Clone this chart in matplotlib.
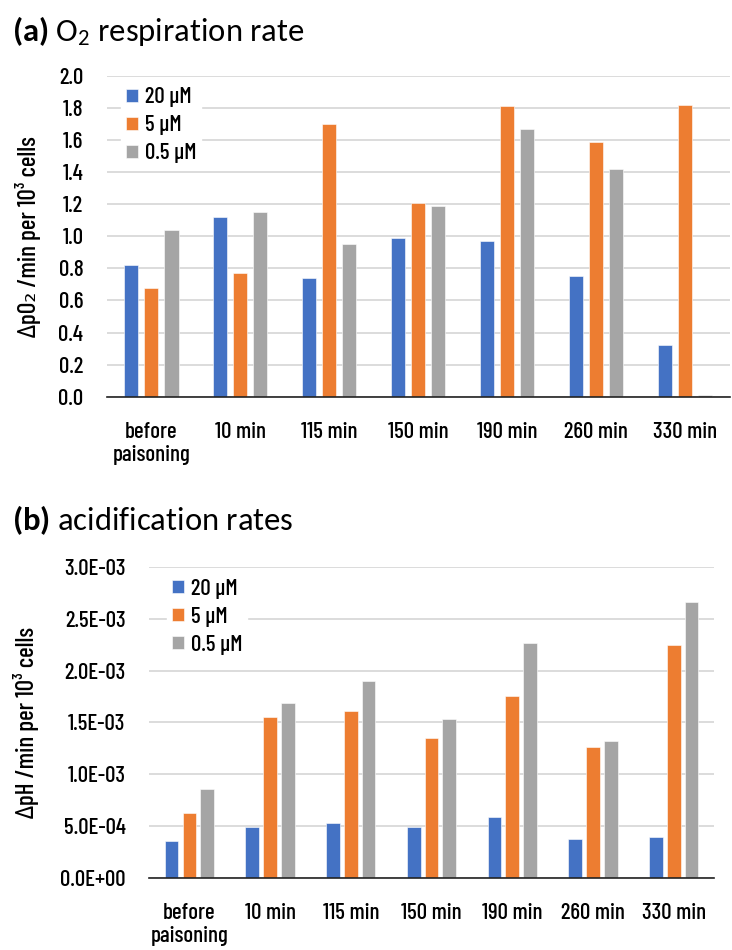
import matplotlib
matplotlib.use("Agg")
import matplotlib.pyplot as plt
import numpy as np
from matplotlib.ticker import FuncFormatter, MultipleLocator

# ── Data ───────────────────────────────────────────────────────────
categories = ["before\npaisoning", "10 min", "115 min", "150 min",
              "190 min", "260 min", "330 min"]
series_names = ["20 µM", "5 µM", "0.5 µM"]

resp_20 = [0.82, 1.12, 0.74, 0.99, 0.97, 0.75, 0.32]
resp_5 = [0.68, 0.77, 1.70, 1.21, 1.81, 1.59, 1.82]
resp_05 = [1.04, 1.15, 0.95, 1.19, 1.67, 1.42, 0.012]

acid_20 = [0.36e-3, 0.49e-3, 0.53e-3, 0.49e-3, 0.59e-3, 0.38e-3, 0.40e-3]
acid_5 = [0.63e-3, 1.55e-3, 1.61e-3, 1.35e-3, 1.76e-3, 1.26e-3, 2.25e-3]
acid_05 = [0.86e-3, 1.69e-3, 1.90e-3, 1.53e-3, 2.27e-3, 1.32e-3, 2.66e-3]

COLORS = ["#4472C4", "#ED7D31", "#A5A5A5"]
NARROW = ["Barlow Condensed", "DejaVu Sans"]
TICK_FS = 16.5

plt.rcParams["mathtext.fontset"] = "custom"
plt.rcParams["mathtext.bf"] = "Carlito:bold"
plt.rcParams["mathtext.default"] = "regular"

fig = plt.figure(figsize=(7.32, 9.5), dpi=100)
fig.patch.set_facecolor("white")


def draw_panel(ax, series, width, step, ylim, major, fmt, ylabel, leg_anchor):
    x = np.arange(len(categories))
    for i, (vals, name) in enumerate(zip(series, series_names)):
        ax.bar(x + (i - 1) * step, vals, width, color=COLORS[i], label=name,
               edgecolor="white", linewidth=0.4, zorder=3)
    ax.set_xlim(-0.5, len(categories) - 0.5)
    ax.set_ylim(*ylim)
    ax.yaxis.set_major_locator(MultipleLocator(major))
    ax.yaxis.set_major_formatter(FuncFormatter(fmt))
    ax.yaxis.grid(True, color="#d9d9d9", linewidth=1.3, zorder=0)
    ax.set_axisbelow(True)
    for s in ("top", "right", "left"):
        ax.spines[s].set_visible(False)
    ax.spines["bottom"].set_color("#222222")
    ax.spines["bottom"].set_linewidth(1.2)
    ax.spines["bottom"].set_zorder(4)
    ax.set_xticks(x)
    ax.set_xticklabels(categories, family=NARROW, fontsize=TICK_FS,
                       weight="medium", linespacing=1.2, va="top")
    ax.tick_params(axis="x", length=0, pad=18)
    ax.tick_params(axis="y", length=0, pad=17)
    for t in ax.get_yticklabels():
        t.set_family(NARROW)
        t.set_fontsize(TICK_FS)
        t.set_weight("medium")
    ax.set_ylabel(ylabel, family=NARROW, fontsize=18, weight="medium")
    leg = ax.legend(loc="upper left", bbox_to_anchor=leg_anchor,
                    prop={"family": NARROW, "size": TICK_FS, "weight": "medium"},
                    frameon=True, fancybox=False, edgecolor="white",
                    framealpha=1, handlelength=0.52, handleheight=0.52,
                    handletextpad=0.33, labelspacing=0.35, borderpad=0.2,
                    borderaxespad=0)
    leg.set_zorder(5)


ax1 = fig.add_axes([0.146, 0.5824, 0.851, 0.3379])
draw_panel(ax1, [resp_20, resp_5, resp_05], 0.16, 0.225, (0, 2.0), 0.2,
           lambda v, p: f"{v:.1f}", "ΔpO₂ /min per 10³ cells",
           (0.023, 0.978))
ax1.yaxis.set_label_coords(-0.105, 0.5)

ax2 = fig.add_axes([0.2036, 0.0758, 0.7719, 0.3274])
draw_panel(ax2, [acid_20, acid_5, acid_05], 0.17, 0.22, (0, 3.0e-3), 0.5e-3,
           lambda v, p: f"{v:.1E}", "ΔpH /min per 10³ cells",
           (0.032, 0.977))
ax2.yaxis.set_label_coords(-0.195, 0.5)

fig.text(0.016, 0.9568, r"$\mathbf{(a)}$ O$_2$ respiration rate",
         family="Carlito", fontsize=23.5, va="baseline", ha="left")
fig.text(0.016, 0.4415, r"$\mathbf{(b)}$ acidification rates",
         family="Carlito", fontsize=23.5, va="baseline", ha="left")

fig.savefig("out.png", dpi=100, facecolor="white")
